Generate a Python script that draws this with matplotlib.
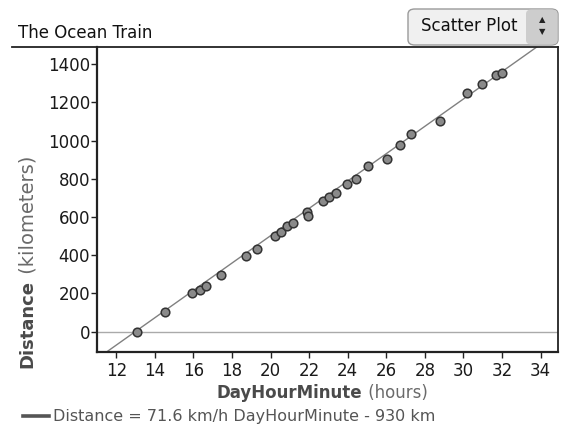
import numpy as np
import matplotlib
matplotlib.use("Agg")
import matplotlib.pyplot as plt
from matplotlib.patches import FancyBboxPatch
from matplotlib.lines import Line2D

# data
hours = [13.09, 14.50, 15.93, 16.36, 16.66, 17.43, 18.73, 19.30, 20.23, 20.54,
         20.85, 21.18, 21.90, 21.96, 22.70, 23.04, 23.39, 23.94, 24.42, 25.06,
         26.03, 26.72, 27.27, 28.77, 30.20, 30.94, 31.70, 32.01]
distance = [0, 104, 200, 218, 241, 297, 394, 432, 499, 522,
            551, 569, 627, 606, 685, 703, 724, 771, 801, 869,
            906, 975, 1035, 1101, 1247, 1295, 1342, 1352]
slope = 71.6
intercept = -930
x_ticks = list(range(12, 35, 2))
y_ticks = list(range(0, 1401, 200))

plt.rcParams['font.family'] = ['DejaVu Sans']

W, H = 565, 434
fig = plt.figure(figsize=(W / 100, H / 100), dpi=100)
ax = fig.add_axes([97 / W, 1 - 352 / H, (558 - 97) / W, (352 - 47) / H])

ax.set_xlim(11, 34.9)
ax.set_ylim(-107, 1490)

# zero line and fitted line
ax.axhline(0, color='#aaaaaa', lw=1, zorder=1)
xs = np.array(ax.get_xlim())
fit, = ax.plot(xs, slope * xs + intercept, color='#808080', lw=1, zorder=2,
               label='Distance = 71.6 km/h DayHourMinute - 930 km')
ax.plot(hours, distance, 'o', ms=6.2, mfc='#8a8a8a', mec='#333333', mew=1.1,
        zorder=3, clip_on=False)

ax.set_xticks(x_ticks)
ax.set_yticks(y_ticks)
ax.tick_params(direction='out', length=4, width=1, color='#222222',
               labelsize=12, labelcolor='#1a1a1a')
ax.tick_params(axis='y', pad=1)
ax.tick_params(axis='x', pad=3)
for s in ['left', 'bottom']:
    ax.spines[s].set_linewidth(1.6)
for s in ['top', 'right']:
    ax.spines[s].set_linewidth(1.3)
for s in ax.spines.values():
    s.set_color('#222222')

# axis labels: bold name + lighter unit
t1 = fig.text(217 / W, 1 - 393 / H, 'DayHourMinute', fontsize=12,
              fontweight='bold', color='#4a4a4a', va='center', ha='left')
ax.annotate(' (hours)', xy=(1, 0), xycoords=t1, fontsize=12, color='#6a6a6a',
            va='bottom', ha='left', annotation_clip=False)

t2 = fig.text(27 / W, 1 - 368 / H, 'Distance', fontsize=13, fontweight='bold',
              color='#4a4a4a', rotation=90, va='bottom', ha='center')
ax.annotate(' (kilometers)', xy=(0, 1), xycoords=t2, fontsize=14,
            color='#6a6a6a', rotation=90, va='bottom', ha='left',
            annotation_clip=False)

# title with rule underneath
fig.text(18 / W, 1 - 33 / H, 'The Ocean Train', fontsize=12,
         color='#111111', va='center', ha='left')
fig.add_artist(Line2D([12 / W, 97 / W], [1 - 47 / H, 1 - 47 / H],
                      transform=fig.transFigure, color='#222222', lw=1.3))

# the dropdown button
btn = FancyBboxPatch((408 / W, 1 - 45 / H), (150 / W), (36 / H),
                     boxstyle='round,pad=0,rounding_size=0.012',
                     transform=fig.transFigure, facecolor='#f0f0f0',
                     edgecolor='#9a9a9a', lw=1, zorder=5)
fig.add_artist(btn)
btn2 = FancyBboxPatch((526 / W, 1 - 44.5 / H), (31.5 / W), (35 / H),
                      boxstyle='round,pad=0,rounding_size=0.01',
                      transform=fig.transFigure, facecolor='#cdcdcd',
                      edgecolor='none', zorder=5)
fig.add_artist(btn2)
fig.text(469 / W, 1 - 26 / H, 'Scatter Plot', fontsize=12, color='#111111',
         va='center', ha='center', zorder=6)
fig.text(542 / W, 1 - 20 / H, '\u25b2', fontsize=6, color='#222222',
         va='center', ha='center', zorder=6)
fig.text(542 / W, 1 - 32 / H, '\u25bc', fontsize=6, color='#222222',
         va='center', ha='center', zorder=6)

# legend below
leg = fig.legend(handles=[Line2D([], [], color='#555555', lw=2.6)],
                 labels=[fit.get_label()], loc='center left',
                 bbox_to_anchor=(23 / W, 1 - 417 / H), frameon=False,
                 fontsize=11.5, handlelength=1.6, handletextpad=0.3,
                 borderaxespad=0, borderpad=0)
for t in leg.get_texts():
    t.set_color('#555555')

fig.savefig('out.png', dpi=100)
